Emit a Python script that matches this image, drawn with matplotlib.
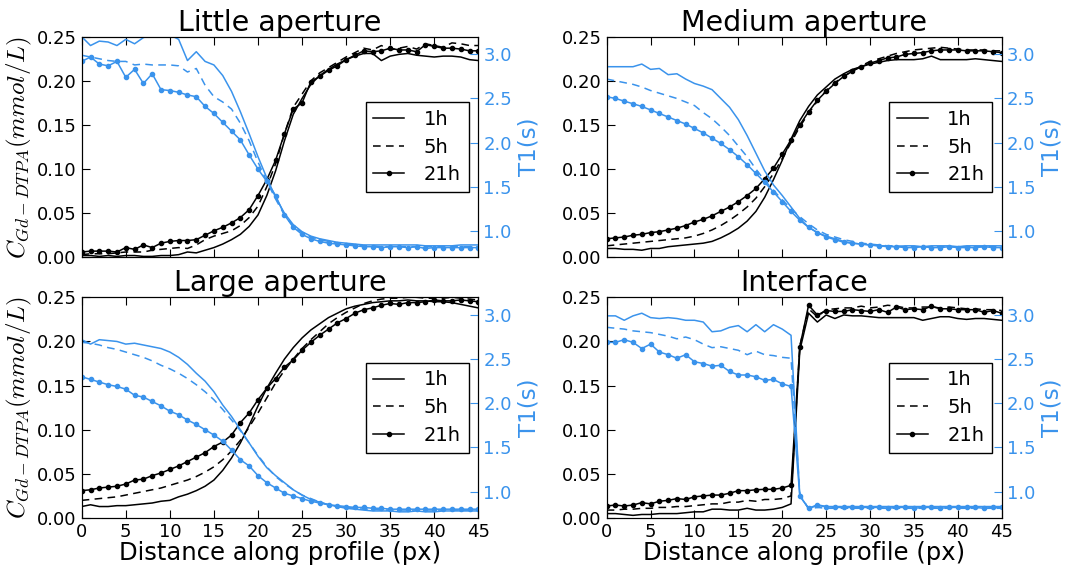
import numpy as np
import matplotlib
matplotlib.use('Agg')
import matplotlib.pyplot as plt

plt.rcParams['font.family'] = 'DejaVu Sans'
plt.rcParams['xtick.direction'] = 'in'
plt.rcParams['ytick.direction'] = 'in'
plt.rcParams['mathtext.fontset'] = 'cm'

blue = '#3a93ec'

x = np.arange(0, 46)

# Little aperture
little_c1 = [0.002, 0.002, 0.001, 0.002, 0.001, 0.002, 0.002, 0.001, 0.001, 0.002, 0.002,
             0.003, 0.006, 0.005, 0.008, 0.011, 0.015, 0.020, 0.026, 0.035, 0.048,
             0.070, 0.098, 0.132, 0.162, 0.180, 0.196, 0.206, 0.213, 0.219, 0.224,
             0.228, 0.231, 0.231, 0.223, 0.228, 0.230, 0.231, 0.229, 0.228, 0.227,
             0.228, 0.228, 0.227, 0.224, 0.223]
little_c5 = [0.003, 0.004, 0.004, 0.004, 0.005, 0.006, 0.006, 0.006, 0.008, 0.009, 0.010,
             0.011, 0.010, 0.014, 0.020, 0.024, 0.027, 0.030, 0.036, 0.045, 0.058,
             0.080, 0.106, 0.140, 0.170, 0.185, 0.200, 0.209, 0.215, 0.221, 0.227,
             0.232, 0.237, 0.235, 0.240, 0.235, 0.237, 0.239, 0.236, 0.242, 0.240,
             0.238, 0.243, 0.242, 0.240, 0.240]
little_c21 = [0.006, 0.007, 0.007, 0.007, 0.006, 0.011, 0.009, 0.014, 0.011, 0.016, 0.018,
              0.019, 0.019, 0.020, 0.025, 0.030, 0.034, 0.039, 0.045, 0.054, 0.070,
              0.088, 0.110, 0.140, 0.168, 0.175, 0.199, 0.205, 0.212, 0.217, 0.224,
              0.229, 0.234, 0.233, 0.234, 0.237, 0.235, 0.235, 0.233, 0.241, 0.239,
              0.237, 0.237, 0.236, 0.234, 0.234]
little_t1 = [3.20, 3.10, 3.15, 3.14, 3.10, 3.17, 3.12, 3.19, 3.22, 3.22, 3.22,
             3.17, 2.93, 3.03, 2.92, 2.88, 2.76, 2.58, 2.35, 2.10, 1.84,
             1.60, 1.38, 1.20, 1.07, 0.99, 0.94, 0.91, 0.89, 0.87, 0.86,
             0.85, 0.84, 0.84, 0.84, 0.84, 0.84, 0.84, 0.84, 0.83, 0.83,
             0.83, 0.83, 0.84, 0.84, 0.84]
little_t5 = [2.99, 2.97, 2.95, 2.93, 2.92, 2.92, 2.88, 2.89, 2.88, 2.88, 2.88,
             2.87, 2.80, 2.84, 2.65, 2.52, 2.46, 2.38, 2.22, 2.02, 1.78,
             1.56, 1.36, 1.18, 1.05, 0.98, 0.93, 0.90, 0.88, 0.86, 0.85,
             0.84, 0.83, 0.83, 0.82, 0.82, 0.82, 0.82, 0.82, 0.82, 0.82,
             0.82, 0.82, 0.82, 0.82, 0.82]
little_t21 = [2.92, 2.97, 2.89, 2.87, 2.92, 2.74, 2.83, 2.67, 2.78, 2.60, 2.59,
              2.57, 2.54, 2.52, 2.41, 2.33, 2.23, 2.13, 2.03, 1.86, 1.70,
              1.56, 1.40, 1.18, 1.04, 0.96, 0.91, 0.88, 0.86, 0.85, 0.84,
              0.83, 0.82, 0.82, 0.81, 0.82, 0.82, 0.81, 0.82, 0.80, 0.81,
              0.81, 0.81, 0.81, 0.81, 0.81]

# Medium aperture
medium_c1 = [0.010, 0.010, 0.009, 0.009, 0.008, 0.010, 0.010, 0.012, 0.013, 0.014, 0.015,
             0.016, 0.018, 0.022, 0.027, 0.033, 0.041, 0.052, 0.068, 0.088, 0.110,
             0.134, 0.155, 0.171, 0.184, 0.193, 0.202, 0.208, 0.213, 0.216, 0.219,
             0.221, 0.223, 0.224, 0.224, 0.224, 0.225, 0.228, 0.224, 0.224, 0.224,
             0.224, 0.225, 0.224, 0.223, 0.222]
medium_c5 = [0.013, 0.014, 0.015, 0.016, 0.017, 0.018, 0.019, 0.020, 0.021, 0.022, 0.024,
             0.027, 0.031, 0.036, 0.042, 0.049, 0.057, 0.067, 0.080, 0.095, 0.112,
             0.130, 0.148, 0.163, 0.177, 0.189, 0.198, 0.205, 0.211, 0.217, 0.222,
             0.225, 0.228, 0.231, 0.233, 0.235, 0.236, 0.237, 0.238, 0.237, 0.236,
             0.235, 0.235, 0.235, 0.234, 0.234]
medium_c21 = [0.021, 0.022, 0.023, 0.025, 0.026, 0.028, 0.029, 0.031, 0.033, 0.036, 0.040,
              0.043, 0.047, 0.052, 0.057, 0.063, 0.070, 0.078, 0.089, 0.101, 0.117,
              0.133, 0.150, 0.165, 0.178, 0.188, 0.197, 0.205, 0.211, 0.216, 0.220,
              0.223, 0.226, 0.227, 0.230, 0.231, 0.232, 0.234, 0.235, 0.235, 0.235,
              0.234, 0.234, 0.234, 0.233, 0.232]
medium_t1 = [2.86, 2.86, 2.86, 2.86, 2.89, 2.83, 2.84, 2.77, 2.78, 2.72, 2.67,
             2.64, 2.60, 2.50, 2.40, 2.26, 2.08, 1.88, 1.68, 1.52, 1.40,
             1.27, 1.14, 1.04, 0.98, 0.94, 0.91, 0.88, 0.86, 0.85, 0.84,
             0.83, 0.83, 0.82, 0.83, 0.83, 0.82, 0.83, 0.83, 0.83, 0.82,
             0.83, 0.83, 0.83, 0.83, 0.83]
medium_t5 = [2.72, 2.70, 2.68, 2.66, 2.63, 2.59, 2.56, 2.53, 2.50, 2.46, 2.42,
             2.34, 2.27, 2.18, 2.08, 1.96, 1.84, 1.70, 1.57, 1.46, 1.35,
             1.25, 1.16, 1.08, 1.01, 0.96, 0.93, 0.90, 0.88, 0.86, 0.85,
             0.84, 0.83, 0.83, 0.82, 0.82, 0.82, 0.82, 0.82, 0.82, 0.82,
             0.82, 0.82, 0.82, 0.82, 0.82]
medium_t21 = [2.52, 2.50, 2.47, 2.44, 2.41, 2.37, 2.33, 2.29, 2.25, 2.21, 2.16,
              2.11, 2.05, 1.99, 1.92, 1.84, 1.75, 1.65, 1.55, 1.44, 1.33,
              1.22, 1.12, 1.04, 0.98, 0.93, 0.90, 0.87, 0.86, 0.85, 0.84,
              0.83, 0.82, 0.82, 0.81, 0.81, 0.82, 0.81, 0.81, 0.82, 0.81,
              0.81, 0.81, 0.82, 0.81, 0.81]

# Large aperture
large_c1 = [0.013, 0.015, 0.013, 0.013, 0.014, 0.014, 0.015, 0.016, 0.017, 0.019, 0.020,
            0.024, 0.027, 0.031, 0.036, 0.043, 0.054, 0.068, 0.085, 0.105, 0.127,
            0.147, 0.164, 0.180, 0.193, 0.204, 0.213, 0.220, 0.227, 0.232, 0.237,
            0.240, 0.242, 0.244, 0.245, 0.246, 0.246, 0.247, 0.246, 0.246, 0.245,
            0.245, 0.244, 0.242, 0.240, 0.238]
large_c5 = [0.020, 0.021, 0.022, 0.023, 0.024, 0.026, 0.028, 0.030, 0.032, 0.034, 0.037,
            0.040, 0.043, 0.047, 0.052, 0.058, 0.066, 0.076, 0.088, 0.103, 0.119,
            0.136, 0.153, 0.167, 0.180, 0.192, 0.202, 0.211, 0.220, 0.227, 0.233,
            0.238, 0.243, 0.246, 0.248, 0.249, 0.249, 0.250, 0.250, 0.249, 0.249,
            0.249, 0.250, 0.249, 0.248, 0.247]
large_c21 = [0.031, 0.032, 0.034, 0.035, 0.036, 0.0385, 0.043, 0.044, 0.048, 0.051, 0.055,
             0.059, 0.064, 0.069, 0.074, 0.081, 0.086, 0.094, 0.108, 0.119, 0.134,
             0.147, 0.158, 0.171, 0.179, 0.190, 0.199, 0.207, 0.214, 0.221, 0.226,
             0.232, 0.236, 0.238, 0.241, 0.243, 0.242, 0.244, 0.244, 0.245, 0.247,
             0.246, 0.246, 0.247, 0.246, 0.245]
large_t1 = [2.72, 2.67, 2.72, 2.71, 2.70, 2.67, 2.68, 2.66, 2.64, 2.62, 2.58,
            2.52, 2.44, 2.34, 2.25, 2.13, 1.98, 1.85, 1.70, 1.55, 1.40,
            1.27, 1.18, 1.10, 1.02, 0.96, 0.91, 0.88, 0.85, 0.83, 0.81,
            0.80, 0.79, 0.78, 0.78, 0.78, 0.77, 0.77, 0.78, 0.77, 0.77,
            0.78, 0.78, 0.78, 0.78, 0.78]
large_t5 = [2.69, 2.68, 2.66, 2.63, 2.61, 2.58, 2.55, 2.52, 2.48, 2.43, 2.39,
            2.34, 2.28, 2.21, 2.13, 2.04, 1.93, 1.81, 1.69, 1.55, 1.41,
            1.28, 1.17, 1.09, 1.02, 0.96, 0.92, 0.88, 0.85, 0.83, 0.82,
            0.81, 0.80, 0.80, 0.79, 0.79, 0.79, 0.79, 0.79, 0.79, 0.79,
            0.79, 0.79, 0.79, 0.79, 0.79]
large_t21 = [2.30, 2.27, 2.24, 2.21, 2.19, 2.16, 2.09, 2.07, 2.02, 1.97, 1.91,
             1.87, 1.81, 1.76, 1.70, 1.64, 1.57, 1.47, 1.36, 1.29, 1.18,
             1.10, 1.04, 0.98, 0.95, 0.92, 0.89, 0.87, 0.85, 0.84, 0.83,
             0.82, 0.82, 0.81, 0.81, 0.80, 0.80, 0.80, 0.80, 0.80, 0.80,
             0.80, 0.80, 0.80, 0.80, 0.80]

# Interface
iface_c1 = [0.005, 0.005, 0.004, 0.003, 0.004, 0.004, 0.005, 0.005, 0.005, 0.006, 0.007,
            0.007, 0.010, 0.010, 0.009, 0.009, 0.011, 0.009, 0.009, 0.010, 0.012, 0.016,
            0.190, 0.232, 0.222, 0.230, 0.226, 0.230, 0.229, 0.229, 0.228,
            0.227, 0.227, 0.227, 0.227, 0.227, 0.224, 0.226, 0.228, 0.228, 0.226,
            0.225, 0.226, 0.226, 0.225, 0.224]
iface_c5 = [0.009, 0.009, 0.010, 0.010, 0.011, 0.011, 0.012, 0.012, 0.013, 0.013, 0.014,
            0.015, 0.016, 0.016, 0.018, 0.018, 0.020, 0.019, 0.021, 0.021, 0.022, 0.025,
            0.195, 0.237, 0.228, 0.236, 0.237, 0.238, 0.238, 0.240, 0.238,
            0.239, 0.241, 0.240, 0.238, 0.238, 0.239, 0.239, 0.238, 0.239, 0.238,
            0.237, 0.237, 0.236, 0.236, 0.235]
iface_c21 = [0.0136, 0.0147, 0.0136, 0.0147, 0.0174, 0.016, 0.019, 0.020, 0.022, 0.021, 0.024,
             0.025, 0.026, 0.026, 0.028, 0.031, 0.031, 0.032, 0.0325, 0.0325, 0.034, 0.037,
             0.194, 0.241, 0.230, 0.235, 0.234, 0.234, 0.236, 0.235, 0.234,
             0.236, 0.233, 0.239, 0.236, 0.237, 0.236, 0.240, 0.237, 0.237, 0.236,
             0.236, 0.236, 0.233, 0.235, 0.232]
iface_t1 = [2.99, 2.99, 2.94, 2.99, 3.02, 2.97, 2.96, 2.97, 2.96, 2.94, 2.94,
            2.92, 2.81, 2.82, 2.86, 2.88, 2.81, 2.89, 2.81, 2.89, 2.84, 2.77,
            0.95, 0.81, 0.84, 0.83, 0.83, 0.83, 0.83, 0.83, 0.83,
            0.83, 0.83, 0.83, 0.83, 0.83, 0.83, 0.83, 0.83, 0.83, 0.83,
            0.83, 0.83, 0.83, 0.83, 0.83]
iface_t5 = [2.86, 2.85, 2.84, 2.82, 2.81, 2.80, 2.78, 2.76, 2.73, 2.75, 2.72,
            2.67, 2.63, 2.64, 2.62, 2.60, 2.55, 2.59, 2.55, 2.54, 2.52, 2.51,
            0.98, 0.80, 0.82, 0.81, 0.81, 0.81, 0.81, 0.81, 0.81,
            0.81, 0.81, 0.81, 0.81, 0.81, 0.81, 0.81, 0.81, 0.81, 0.81,
            0.81, 0.81, 0.81, 0.81, 0.81]
iface_t21 = [2.69, 2.69, 2.72, 2.69, 2.62, 2.67, 2.58, 2.55, 2.51, 2.55, 2.47,
             2.45, 2.42, 2.43, 2.36, 2.32, 2.32, 2.30, 2.26, 2.27, 2.22, 2.19,
             0.95, 0.81, 0.85, 0.83, 0.82, 0.82, 0.82, 0.82, 0.82,
             0.82, 0.81, 0.82, 0.82, 0.81, 0.82, 0.82, 0.81, 0.82, 0.82,
             0.82, 0.82, 0.81, 0.82, 0.82]

titles = ['Little aperture', 'Medium aperture', 'Large aperture', 'Interface']
labels = ['1h', '5h', '21h']
dash = (5, 3.5)


def panel(pos, title, c1, c5, c21, t1, t5, t21, left_col, bottom_row):
    ax = fig.add_axes(pos)
    l1, = ax.plot(x, c1, 'k-', lw=1.1)
    l5, = ax.plot(x, c5, 'k--', lw=1.1, dashes=dash)
    l21, = ax.plot(x, c21, 'k.-', lw=1.1, ms=6)
    ax.set_xlim(0, 45)
    ax.set_ylim(0, 0.25)
    ax.set_xticks(range(0, 46, 5))
    ax.set_yticks([0, 0.05, 0.10, 0.15, 0.20, 0.25])
    ax.set_yticklabels(['%.2f' % v for v in ax.get_yticks()])
    ax.tick_params(top=True, length=6, width=0.8, labelsize=13)
    if not bottom_row:
        ax.set_xticklabels([])
    else:
        ax.set_xlabel('Distance along profile (px)', fontsize=17.5, labelpad=0)
    if left_col:
        ax.set_ylabel('$C_{Gd-DTPA}(mmol/L)$', fontsize=18, labelpad=2)
    ax.set_title(title, fontsize=20.5, pad=3)

    ax2 = ax.twinx()
    ax2.plot(x, t1, '-', color=blue, lw=1.1)
    ax2.plot(x, t5, '--', color=blue, lw=1.1, dashes=dash)
    ax2.plot(x, t21, '.-', color=blue, lw=1.1, ms=6)
    ax2.set_ylim(0.7, 3.2)
    ax2.set_yticks([1.0, 1.5, 2.0, 2.5, 3.0])
    ax2.tick_params(axis='y', colors=blue, length=6, width=0.8, labelsize=13)
    ax2.spines['right'].set_color('k')
    ax2.set_ylabel('T1(s)', color=blue, fontsize=16.5, labelpad=4)
    ax2.legend([l1, l5, l21], labels, loc='center right', fancybox=False,
               edgecolor='k', framealpha=1, fontsize=14, handlelength=1.6,
               handletextpad=1.0, labelspacing=0.45)
    return ax


fig = plt.figure(figsize=(10.82, 5.71), dpi=100)

panel([0.0755, 0.5494, 0.3666, 0.3863], titles[0], little_c1, little_c5, little_c21,
      little_t1, little_t5, little_t21, True, False)
panel([0.5607, 0.5494, 0.3651, 0.3863], titles[1], medium_c1, medium_c5, medium_c21,
      medium_t1, medium_t5, medium_t21, False, False)
panel([0.0755, 0.0928, 0.3666, 0.3865], titles[2], large_c1, large_c5, large_c21,
      large_t1, large_t5, large_t21, True, True)
panel([0.5607, 0.0928, 0.3651, 0.3865], titles[3], iface_c1, iface_c5, iface_c21,
      iface_t1, iface_t5, iface_t21, False, True)

fig.savefig('out.png', dpi=100)
